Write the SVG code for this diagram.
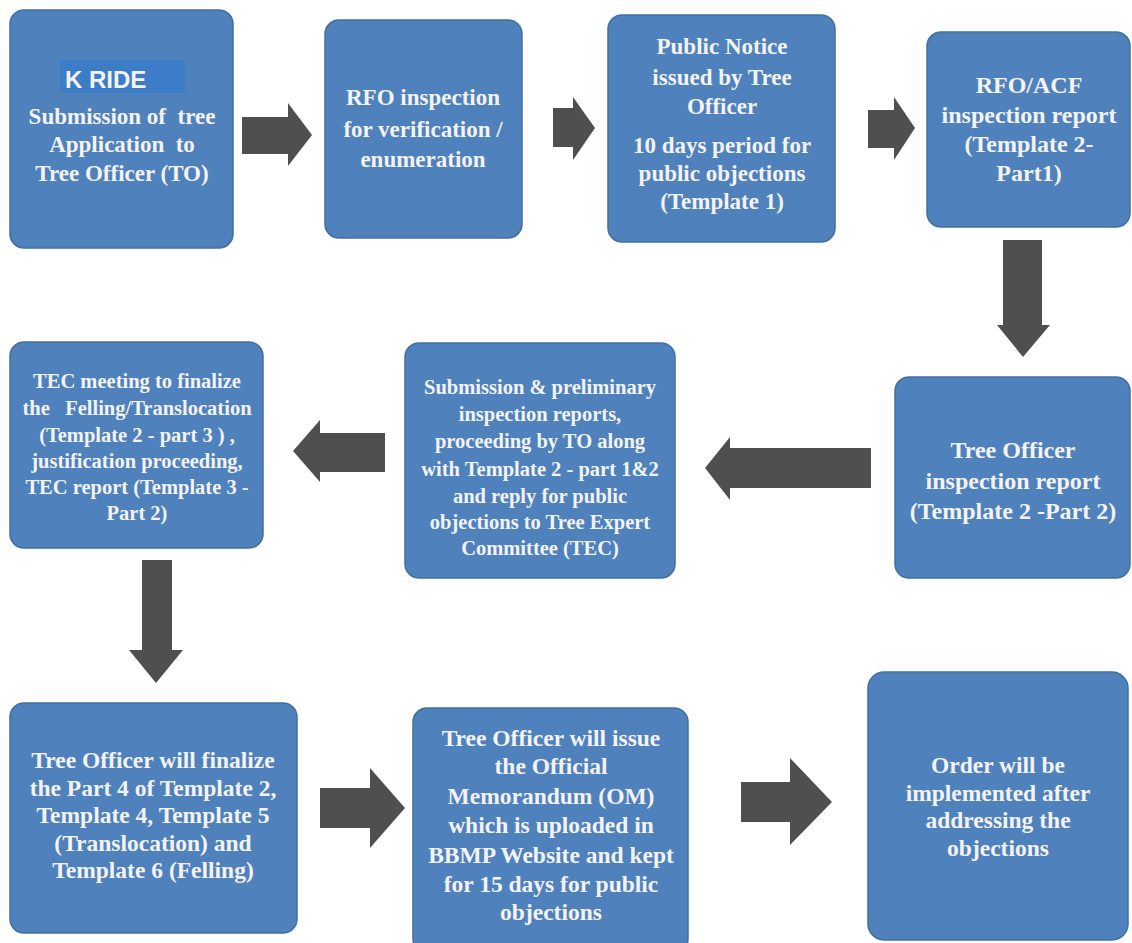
<svg xmlns="http://www.w3.org/2000/svg" width="1132" height="943" viewBox="0 0 1132 943">
<style>
.box{fill:#4F81BD;stroke:#41709F;stroke-width:1.5}
.t{font-family:"Liberation Serif","Times New Roman",serif;font-weight:bold;fill:#F3F3F3;text-anchor:middle;white-space:pre}
.arr{fill:#4F4F4F}
</style>
<rect x="0" y="0" width="1132" height="943" fill="#FFFFFF"/>
<g id="connectors">
<polygon class="arr" points="242,117 288,117 288,103 312,135 288,166 288,154 242,154"/>
<polygon class="arr" points="553,108 573,108 573,97 595,128 573,160 573,147 553,147"/>
<polygon class="arr" points="868,110 894,110 894,97 915,128 894,160 894,148 868,148"/>
<polygon class="arr" points="1003,240 1042,240 1042,325 1050,325 1023,357 997,325 1003,325"/>
<polygon class="arr" points="871,448 730,448 730,437 705,468 730,500 730,488 871,488"/>
<polygon class="arr" points="385,433 320,433 320,420 293,451 320,482 320,472 385,472"/>
<polygon class="arr" points="142,560 172,560 172,650 183,650 156,683 129,650 142,650"/>
<polygon class="arr" points="320,788 370,788 370,768 405,808 370,848 370,828 320,828"/>
<polygon class="arr" points="741,782 790,782 790,758 832,802 790,845 790,822 741,822"/>
</g>
<g id="n1">
<rect class="box" x="10" y="10" width="223" height="238" rx="14"/>
<rect x="60" y="60" width="125" height="33" fill="#3D7CC6"/>
<text x="65" y="88" font-family="Liberation Sans, Arial, sans-serif" font-weight="bold" font-size="24" fill="#F3F3F3">K RIDE</text>
<text class="t" font-size="23"><tspan x="122" y="124">Submission of  tree</tspan><tspan x="122" y="152">Application  to</tspan><tspan x="122" y="181">Tree Officer (TO)</tspan></text>
</g>
<g id="n2">
<rect class="box" x="325" y="20" width="197" height="218" rx="14"/>
<text class="t" font-size="23"><tspan x="423" y="105">RFO inspection</tspan><tspan x="423" y="137">for verification /</tspan><tspan x="423" y="167">enumeration</tspan></text>
</g>
<g id="n3">
<rect class="box" x="608" y="15" width="227" height="227" rx="14"/>
<text class="t" font-size="23"><tspan x="722" y="54">Public Notice</tspan><tspan x="722" y="85">issued by Tree</tspan><tspan x="722" y="114">Officer</tspan><tspan x="722" y="153">10 days period for</tspan><tspan x="722" y="181">public objections</tspan><tspan x="722" y="209">(Template 1)</tspan></text>
</g>
<g id="n4">
<rect class="box" x="927" y="32" width="203" height="195" rx="14"/>
<text class="t" font-size="24"><tspan x="1029" y="93">RFO/ACF</tspan><tspan x="1029" y="123">inspection report</tspan><tspan x="1029" y="152">(Template 2-</tspan><tspan x="1029" y="181">Part1)</tspan></text>
</g>
<g id="n5">
<rect class="box" x="895" y="377" width="235" height="201" rx="14"/>
<text class="t" font-size="24"><tspan x="1013" y="458">Tree Officer</tspan><tspan x="1013" y="489">inspection report</tspan><tspan x="1013" y="519">(Template 2 -Part 2)</tspan></text>
</g>
<g id="n6">
<rect class="box" x="405" y="343" width="270" height="235" rx="14"/>
<text class="t" font-size="20.5"><tspan x="540" y="394">Submission &amp; preliminary</tspan><tspan x="540" y="421">inspection reports,</tspan><tspan x="540" y="448">proceeding by TO along</tspan><tspan x="540" y="476">with Template 2 - part 1&amp;2</tspan><tspan x="540" y="503">and reply for public</tspan><tspan x="540" y="529">objections to Tree Expert</tspan><tspan x="540" y="555">Committee (TEC)</tspan></text>
</g>
<g id="n7">
<rect class="box" x="10" y="342" width="253" height="206" rx="14"/>
<text class="t" font-size="20.5"><tspan x="137" y="388">TEC meeting to finalize</tspan><tspan x="137" y="415">the   Felling/Translocation</tspan><tspan x="137" y="442">(Template 2 - part 3 ) ,</tspan><tspan x="137" y="468">justification proceeding,</tspan><tspan x="137" y="494">TEC report (Template 3 -</tspan><tspan x="137" y="520">Part 2)</tspan></text>
</g>
<g id="n8">
<rect class="box" x="10" y="703" width="287" height="230" rx="14"/>
<text class="t" font-size="23.5"><tspan x="153" y="768">Tree Officer will finalize</tspan><tspan x="153" y="796">the Part 4 of Template 2,</tspan><tspan x="153" y="823">Template 4, Template 5</tspan><tspan x="153" y="851">(Translocation) and</tspan><tspan x="153" y="878">Template 6 (Felling)</tspan></text>
</g>
<g id="n9">
<rect class="box" x="413" y="708" width="275" height="245" rx="14"/>
<text class="t" font-size="23.5"><tspan x="551" y="746">Tree Officer will issue</tspan><tspan x="551" y="774">the Official</tspan><tspan x="551" y="804">Memorandum (OM)</tspan><tspan x="551" y="833">which is uploaded in</tspan><tspan x="551" y="863">BBMP Website and kept</tspan><tspan x="551" y="892">for 15 days for public</tspan><tspan x="551" y="920">objections</tspan></text>
</g>
<g id="n10">
<rect class="box" x="868" y="672" width="260" height="268" rx="16"/>
<text class="t" font-size="23.5"><tspan x="998" y="773">Order will be</tspan><tspan x="998" y="801">implemented after</tspan><tspan x="998" y="828">addressing the</tspan><tspan x="998" y="856">objections</tspan></text>
</g>
</svg>
